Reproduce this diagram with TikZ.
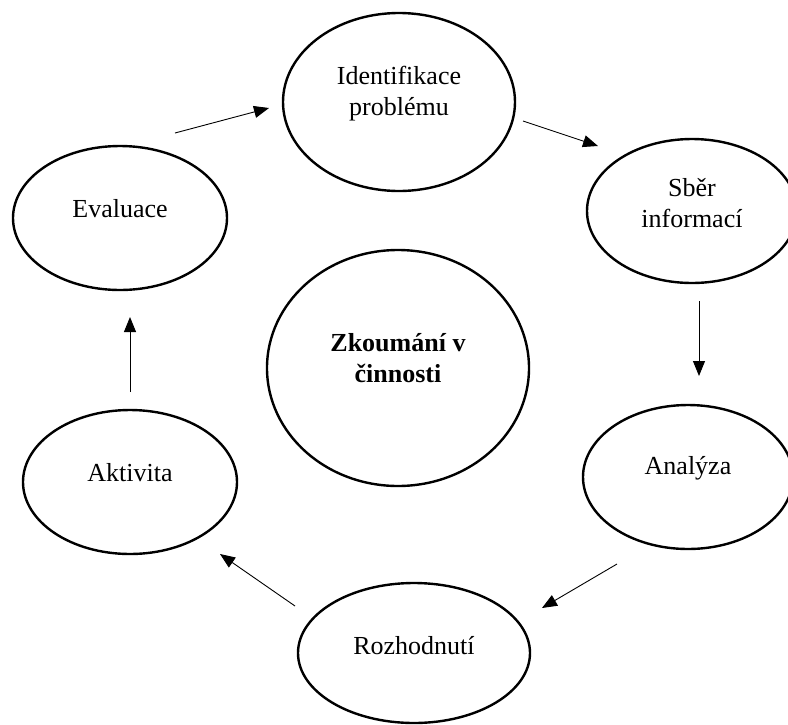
\documentclass[tikz,border=0pt]{standalone}
\usepackage{fontspec}
\setmainfont{Liberation Serif}
\usetikzlibrary{shapes.geometric,arrows.meta}
\begin{document}
\begin{tikzpicture}[x=1pt,y=-1pt,
  ell/.style={draw, ellipse, line width=2.4pt, inner sep=0pt},
  lbl/.style={align=center, font=\fontsize{26}{31}\selectfont, inner sep=0pt},
  flow/.style={line width=0.9pt, -{Triangle[length=15pt,width=12pt]}}]
\clip (0,0) rectangle (788,724);
\fill[white] (0,0) rectangle (788,724);
% ellipses
\node[ell, minimum width=232pt, minimum height=178pt] (ide) at (399,102) {};
\node[ell, minimum width=210pt, minimum height=144pt] (sber) at (692,211) {};
\node[ell, minimum width=214pt, minimum height=144pt] (eval) at (120,218) {};
\node[ell, minimum width=262pt, minimum height=236pt] (zk) at (398,368) {};
\node[ell, minimum width=214pt, minimum height=144pt] (akt) at (130,482) {};
\node[ell, minimum width=210pt, minimum height=144pt] (ana) at (688,477) {};
\node[ell, minimum width=232pt, minimum height=140pt] (roz) at (414,653) {};
% labels
\node[lbl] (tide) at ([yshift=8pt]ide.center) {Identifikace\\problému};
\node[lbl] (tsber) at ([yshift=8pt]sber.center) {Sběr\\informací};
\node[lbl] (teval) at ([yshift=9pt]eval.center) {Evaluace};
\node[lbl] (tzk) at ([yshift=10pt]zk.center) {\bfseries Zkoumání v\\\bfseries činnosti};
\node[lbl] (takt) at ([yshift=9pt]akt.center) {Aktivita};
\node[lbl] (tana) at ([yshift=9pt]ana.center) {Analýza};
\node[lbl] (troz) at ([yshift=7pt]roz.center) {Rozhodnutí};
% arrow ends
\coordinate (a1s) at (175,133); \coordinate (a1e) at (269,108);
\coordinate (a2s) at (523,121); \coordinate (a2e) at (598,146);
\coordinate (a3s) at (699,301); \coordinate (a3e) at (699,376);
\coordinate (a4s) at (617,564); \coordinate (a4e) at (542,608);
\coordinate (a5s) at (295,606); \coordinate (a5e) at (220,554);
\coordinate (a6s) at (130,392); \coordinate (a6e) at (130,317);
\draw[flow] (a1s) -- (a1e);
\draw[flow] (a2s) -- (a2e);
\draw[flow] (a3s) -- (a3e);
\draw[flow] (a4s) -- (a4e);
\draw[flow] (a5s) -- (a5e);
\draw[flow] (a6s) -- (a6e);
\end{tikzpicture}
\end{document}
